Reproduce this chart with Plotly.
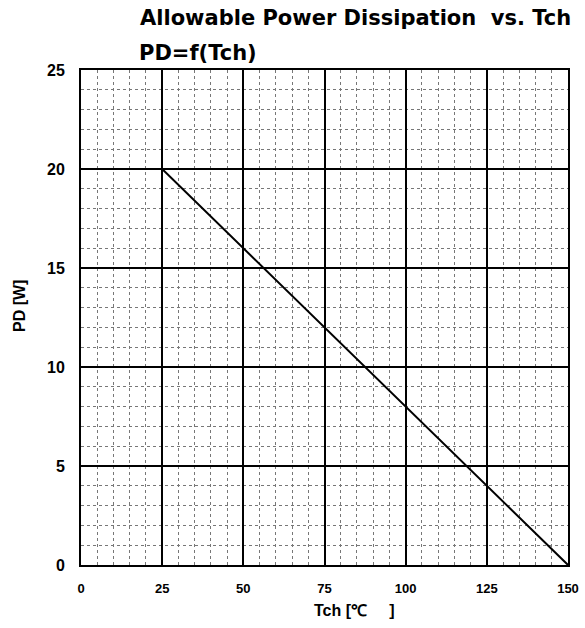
import plotly.graph_objects as go

tch = [0, 25, 150]
pd_w = [20, 20, 0]
x_ticks = [0, 25, 50, 75, 100, 125, 150]
y_ticks = [0, 5, 10, 15, 20, 25]

FONT = "Liberation Sans, Arial, sans-serif"
NARROW = "Liberation Sans Narrow, Liberation Sans, Arial, sans-serif"
TFONT = "DejaVu Sans, sans-serif"

L, R, T, B = 81, 17, 70, 63
W, H = 585, 628
PW = W - L - R
PH = H - T - B

fig = go.Figure()
fig.add_trace(go.Scatter(x=tch, y=pd_w, mode="lines",
                         line=dict(color="black", width=2), showlegend=False,
                         hoverinfo="skip"))

fig.update_layout(
    width=W, height=H,
    margin=dict(l=L, r=R, t=T, b=B, autoexpand=False),
    paper_bgcolor="white", plot_bgcolor="white",
    font=dict(family=FONT, color="black"),
)
fig.update_xaxes(
    range=[0, 150], tickvals=x_ticks, ticktext=[str(v) for v in x_ticks],
    showgrid=True, gridcolor="black", gridwidth=2,
    minor=dict(dtick=5, showgrid=True, gridcolor="#777", griddash="dot", gridwidth=1),
    showline=True, linecolor="black", linewidth=2, mirror=True,
    zeroline=False, ticks="", ticklen=0, automargin=False,
    ticklabelstandoff=10,
    tickfont=dict(size=13, family=FONT, weight="bold"),
)
fig.update_yaxes(
    range=[0, 25], tickvals=y_ticks, ticktext=[str(v) for v in y_ticks],
    showgrid=True, gridcolor="black", gridwidth=2,
    minor=dict(dtick=1, showgrid=True, gridcolor="#777", griddash="dot", gridwidth=1),
    showline=True, linecolor="black", linewidth=2, mirror=True,
    zeroline=False, ticks="", ticklen=0, automargin=False,
    ticklabelstandoff=11,
    tickfont=dict(size=16, family=NARROW, weight="bold"),
)

def px_x(p):
    return (p - L) / PW

def px_y(p):
    return (H - B - p) / PH

fig.add_annotation(text="Allowable Power Dissipation  vs. Tch", xref="paper", yref="paper",
                   x=px_x(138), y=1.0, xanchor="left", yanchor="middle", yshift=T - 18,
                   showarrow=False, font=dict(size=21, family=TFONT, weight="bold"))
fig.add_annotation(text="PD=f(Tch)", xref="paper", yref="paper",
                   x=px_x(137), y=1.0, xanchor="left", yanchor="middle", yshift=T - 53,
                   showarrow=False, font=dict(size=21, family=TFONT, weight="bold"))
fig.add_annotation(text="Tch [℃     ]", xref="paper", yref="paper",
                   x=px_x(312), y=0.0, xanchor="left", yanchor="middle", yshift=-(610 - (H - B)),
                   showarrow=False, font=dict(size=16, family=FONT, weight="bold"))
fig.add_annotation(text="PD [W]", xref="paper", yref="paper",
                   x=px_x(19), y=px_y(306), xanchor="center", yanchor="middle", textangle=-90,
                   showarrow=False, font=dict(size=16, family=FONT, weight="bold"))

fig.write_html("out.html")
